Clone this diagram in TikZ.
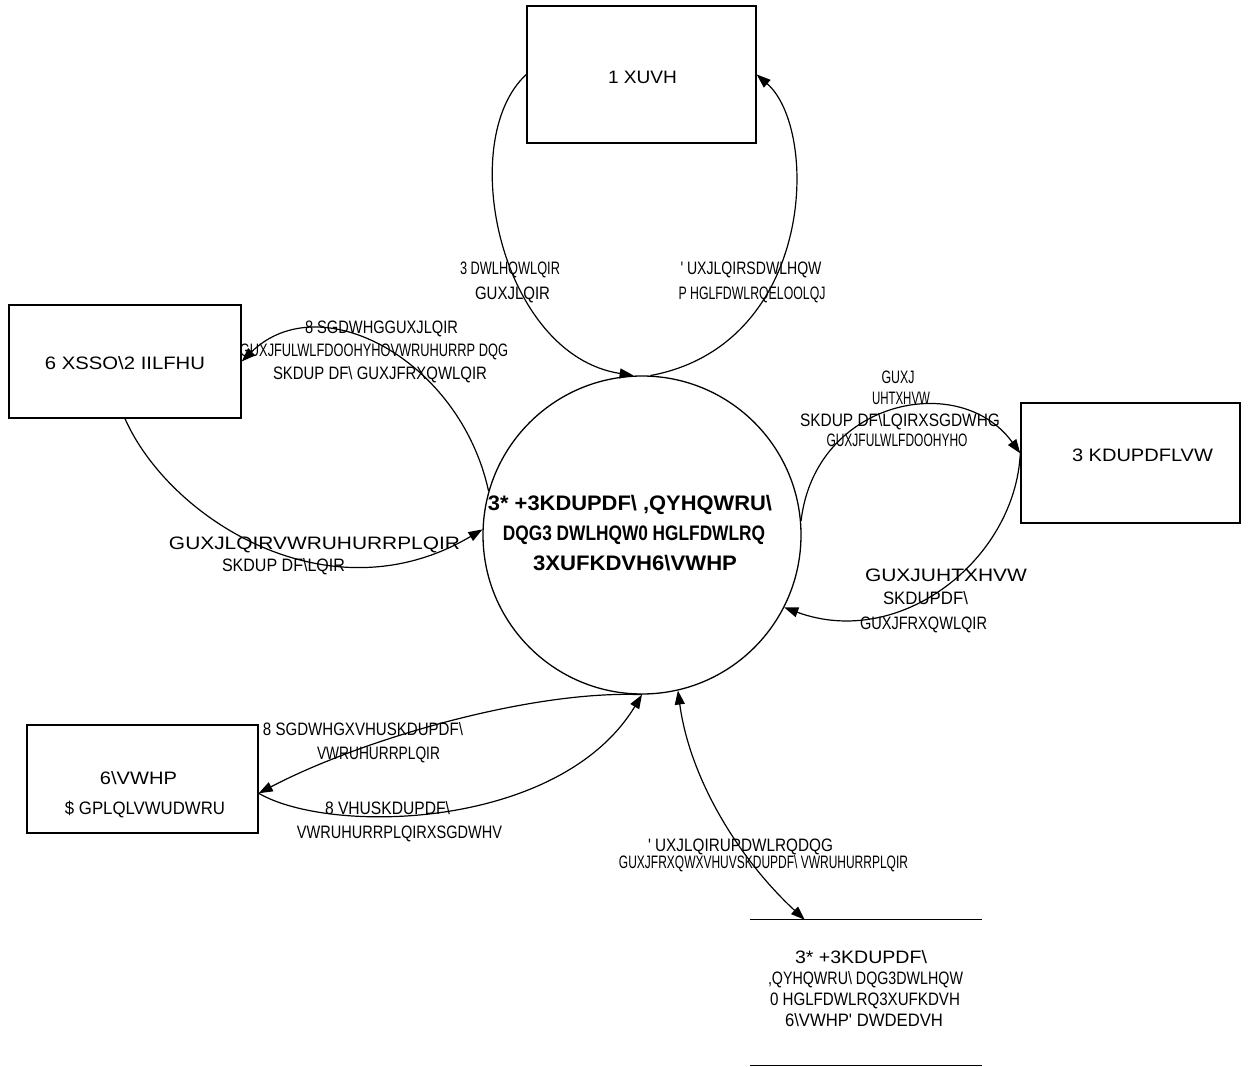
\documentclass[tikz,border=0pt]{standalone}
\usepackage{graphicx}
\usepackage{fontspec}
\usetikzlibrary{arrows.meta,calc}
\newfontfamily\lf{Liberation Sans}
\newsavebox\fitbox
\newcommand\fitw[2]{\sbox\fitbox{#2}\resizebox{#1}{\ht\fitbox}{\usebox\fitbox}}
\newcommand\bsl{\textbackslash}
\tikzset{
  box/.style={draw, line width=1.4pt, inner sep=0pt},
  lab/.style={inner sep=0pt, anchor=base, yshift=-6.5pt, font=\lf\fontsize{18}{18}\selectfont},
  blab/.style={inner sep=0pt, anchor=base, yshift=-7.5pt, font=\lf\bfseries\fontsize{21}{21}\selectfont},
  flow/.style={line width=1.2pt, -{Triangle[length=14pt,width=10pt]}},
  flow2/.style={line width=1.2pt, {Triangle[length=14pt,width=10pt]}-{Triangle[length=14pt,width=10pt]}},
}
\begin{document}
\begin{tikzpicture}[x=1pt,y=-1pt]
\useasboundingbox (0,0) rectangle (1251,1067);
% process
\node[draw, circle, line width=1.3pt, minimum size=318pt, inner sep=0pt] (proc) at (642,535) {};
\node[blab] (cen1) at (630,503) {\fitw{284pt}{3* +3KDUPDF\bsl\ ,QYHQWRU\bsl}};
\node[blab] (cen2) at (634,533) {\fitw{262pt}{DQG3 DWLHQW0 HGLFDWLRQ}};
\node[blab] (cen3) at (635,563) {\fitw{204pt}{3XUFKDVH6\bsl VWHP}};
% external entities
\node[box, minimum width=229pt, minimum height=137pt] (nurse) at (641.5,74.5) {};
\node[lab] (nurseT) at (642.5,77) {\fitw{69pt}{1 XUVH}};
\node[box, minimum width=232pt, minimum height=113pt] (so) at (125,361.5) {};
\node[lab] (soT) at (125,363) {\fitw{160pt}{6 XSSO\bsl 2 IILFHU}};
\node[box, minimum width=219pt, minimum height=120pt] (ph) at (1130.5,463) {};
\node[lab] (phT) at (1142.5,455) {\fitw{141pt}{3 KDUPDFLVW}};
\node[box, minimum width=231pt, minimum height=108pt] (sa) at (142.5,779) {};
\node[lab] (saT1) at (138.5,778) {\fitw{77pt}{6\bsl VWHP}};
\node[lab] (saT2) at (145,808) {\fitw{160pt}{\$ GPLQLVWUDWRU}};
% data store
\node[inner sep=0pt, minimum width=232pt, minimum height=145pt] (ds) at (866,992.5) {};
\draw[line width=1.3pt] (ds.north west) -- (ds.north east);
\draw[line width=1.3pt] (ds.south west) -- (ds.south east);
\node[lab] (dsT1) at (861,957) {\fitw{132pt}{3* +3KDUPDF\bsl}};
\node[lab] (dsT2) at (865.5,978) {\fitw{195pt}{,QYHQWRU\bsl\ DQG3DWLHQW}};
\node[lab] (dsT3) at (865,999) {\fitw{190pt}{0 HGLFDWLRQ3XUFKDVH}};
\node[lab] (dsT4) at (864,1020) {\fitw{158pt}{6\bsl VWHP' DWDEDVH}};
\coordinate (dsin) at ($(ds.north west)+(55,0)$);
% flows
\draw[flow] (nurse.west) .. controls (455,140) and (500,355) .. (proc.93);
\draw[flow] (proc.87) .. controls (815,345) and (820,130) .. (nurse.east);
\draw[flow] (proc.164) .. controls (460,360) and (320,285) .. (so.east);
\draw[flow] (so.south) .. controls (170,520) and (330,620) .. (proc.178);
\draw[flow] (proc.5) .. controls (815,400) and (960,370) .. (ph.175);
\draw[flow] (ph.175) .. controls (1015,560) and (900,650) .. (proc.333);
\draw[flow] (proc.south) .. controls (530,690) and (360,740) .. (sa.353);
\draw[flow] (sa.353) .. controls (330,835) and (560,830) .. (proc.south);
\draw[flow2] (proc.283) .. controls (690,780) and (740,860) .. (dsin);
% labels
\node[lab] (a1) at (510,268) {\fitw{100pt}{3 DWLHQWLQIR}};
\node[lab] (a2) at (512.5,293) {\fitw{75pt}{GUXJLQIR}};
\node[lab] (b1) at (751,268) {\fitw{141pt}{' UXJLQIRSDWLHQW}};
\node[lab] (b2) at (752,293) {\fitw{147pt}{P HGLFDWLRQELOOLQJ}};
\node[lab] (c1) at (381.5,327) {\fitw{153pt}{8 SGDWHGGUXJLQIR}};
\node[lab] (c2) at (374,350) {\fitw{268pt}{GUXJFULWLFDOOHYHOVWRUHURRP DQG}};
\node[lab] (c3) at (380,373) {\fitw{214pt}{SKDUP DF\bsl\ GUXJFRXQWLQIR}};
\node[lab] (d1) at (314.5,543) {\fitw{291pt}{GUXJLQIRVWRUHURRPLQIR}};
\node[lab] (d2) at (283.5,565) {\fitw{123pt}{SKDUP DF\bsl LQIR}};
\node[lab] (e1) at (898,377) {\fitw{33pt}{GUXJ}};
\node[lab] (e2) at (901,398) {\fitw{58pt}{UHTXHVW}};
\node[lab] (e3) at (900,420) {\fitw{200pt}{SKDUP DF\bsl LQIRXSGDWHG}};
\node[lab] (e4) at (897,440) {\fitw{141pt}{GUXJFULWLFDOOHYHO}};
\node[lab] (f1) at (946,575) {\fitw{162pt}{GUXJUHTXHVW}};
\node[lab] (f2) at (925.5,598) {\fitw{85pt}{SKDUPDF\bsl}};
\node[lab] (f3) at (923.5,623) {\fitw{127pt}{GUXJFRXQWLQIR}};
\node[lab] (g1) at (363,729) {\fitw{200pt}{8 SGDWHGXVHUSKDUPDF\bsl}};
\node[lab] (g2) at (378.5,753) {\fitw{123pt}{VWRUHURRPLQIR}};
\node[lab] (h1) at (387.5,808) {\fitw{125pt}{8 VHUSKDUPDF\bsl}};
\node[lab] (h2) at (399.5,832) {\fitw{205pt}{VWRUHURRPLQIRXSGDWHV}};
\node[lab] (i1) at (740.5,845) {\fitw{185pt}{' UXJLQIRUPDWLRQDQG}};
\node[lab] (i2) at (763.5,862) {\fitw{289pt}{GUXJFRXQWXVHUVSKDUPDF\bsl\ VWRUHURRPLQIR}};
\end{tikzpicture}
\end{document}
